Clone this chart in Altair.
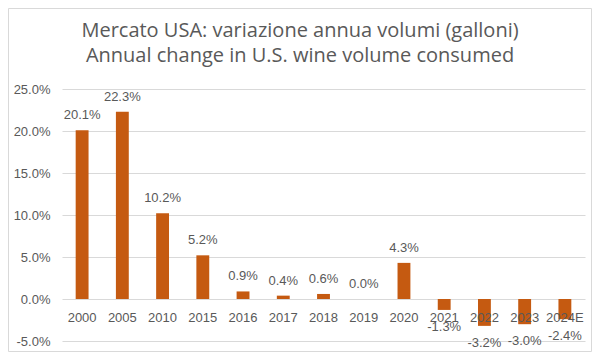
import altair as alt
import pandas as pd

years = ["2000", "2005", "2010", "2015", "2016", "2017", "2018", "2019", "2020", "2021", "2022", "2023", "2024E"]
changes = [20.1, 22.3, 10.2, 5.2, 0.9, 0.4, 0.6, 0.0, 4.3, -1.3, -3.2, -3.0, -2.4]
labels = ["20.1%", "22.3%", "10.2%", "5.2%", "0.9%", "0.4%", "0.6%", "0.0%", "4.3%", "-1.3%", "-3.2%", "-3.0%", "-2.4%"]
title_lines = ["Mercato USA: variazione annua volumi (galloni)", "Annual change in U.S. wine volume consumed"]
y_ticks = [-0.05, 0.0, 0.05, 0.10, 0.15, 0.20, 0.25]

df = pd.DataFrame({
    "year": years,
    "value": [c / 100 for c in changes],
    "label": labels,
})
df["pos"] = df["value"] >= 0

GRAY = "#595959"
BAR = "#C55A11"
FONT = "Liberation Sans"

x_enc = alt.X("year:N", sort=years, axis=None,
              scale=alt.Scale(paddingInner=0.68, paddingOuter=0.34))
y_scale = alt.Scale(domain=[-0.05, 0.25], nice=False, zero=False)

bars = alt.Chart(df).mark_bar(color=BAR).encode(
    x=x_enc,
    y=alt.Y("value:Q", scale=y_scale,
            axis=alt.Axis(values=y_ticks, title=None, ticks=False, domain=False,
                          labelExpr="(datum.value < -0.0001 ? '-' : '') + format(abs(datum.value), '.1%')",
                          labelColor=GRAY, labelFont=FONT, labelFontSize=13, labelPadding=12,
                          grid=True, gridColor="#D9D9D9", gridWidth=1)),
    y2=alt.datum(0),
)

pos_labels = alt.Chart(df).transform_filter("datum.pos").mark_text(
    dy=-15, fontSize=13, font=FONT, color=GRAY, baseline="middle"
).encode(x=x_enc, y=alt.Y("value:Q", scale=y_scale), text="label:N")

neg_labels = alt.Chart(df).transform_filter("!datum.pos").mark_text(
    dy=17, fontSize=13, font=FONT, color=GRAY, baseline="middle"
).encode(x=x_enc, y=alt.Y("value:Q", scale=y_scale), text="label:N")

cat_labels = alt.Chart(df).mark_text(
    dy=19, fontSize=13, font=FONT, color=GRAY, baseline="middle"
).encode(x=x_enc, y=alt.datum(0, scale=y_scale), text="year:N")

title_df = pd.DataFrame({"t": title_lines, "i": [0, 1]})
title1 = alt.Chart(title_df).transform_filter("datum.i == 0").mark_text(
    fontSize=20, font="Open Sans", color=GRAY, baseline="middle", align="center"
).encode(x=alt.value(238), y=alt.value(-58), text="t:N")
title2 = alt.Chart(title_df).transform_filter("datum.i == 1").mark_text(
    fontSize=20, font="Open Sans", color=GRAY, baseline="middle", align="center"
).encode(x=alt.value(238), y=alt.value(-33), text="t:N")

border = alt.Chart(title_df).transform_filter("datum.i == 0").mark_rect(
    fill=None, stroke="#D9D9D9", strokeWidth=1
).encode(x=alt.value(-53.5), x2=alt.value(529.5), y=alt.value(-80.5), y2=alt.value(262.5))

chart = alt.layer(border, bars, pos_labels, neg_labels, cat_labels, title1, title2).properties(
    width=523, height=252,
    padding={"left": 54, "top": 81, "right": 7, "bottom": 11},
    autosize=alt.AutoSizeParams(type="none"),
).configure_view(stroke=None)

chart.save("out.html", embed_options={"renderer": "svg", "actions": False})
